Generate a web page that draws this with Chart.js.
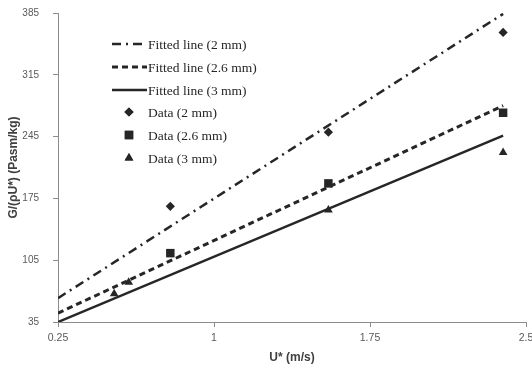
<!DOCTYPE html>
<html>
<head>
<meta charset="utf-8">
<script src="https://cdn.jsdelivr.net/npm/chart.js@4.4.1/dist/chart.umd.min.js"></script>
<style>
  html, body { margin: 0; padding: 0; background: #fff; }
  #wrap { width: 532px; height: 366px; position: relative; }
</style>
</head>
<body>
<div id="wrap"><canvas id="chart" width="532" height="366"></canvas></div>
<script>
// fitted lines (end points)
const fitX = [0.25, 2.39];
const fit2mm = [62, 384];
const fit26mm = [45, 280];
const fit3mm = [35, 246];

// measured data
const dataX2mm = [0.79, 1.55, 2.39];
const data2mm = [166, 250, 363];
const dataX26mm = [0.79, 1.55, 2.39];
const data26mm = [113, 192, 272];
const dataX3mm = [0.52, 0.59, 1.55, 2.39];
const data3mm = [67, 80, 162, 227];

const xTicks = [0.25, 1, 1.75, 2.5];
const yTicks = [35, 105, 175, 245, 315, 385];

const ink = '#262626';
const axisGrey = '#8c8c8c';

const pts = (xs, ys) => xs.map((x, i) => ({ x: x, y: ys[i] }));

// legend drawn inside the plot, top-left
const innerLegend = {
    id: 'innerLegend',
    afterDraw(chart) {
        const ctx = chart.ctx;
        const rows = [44, 67, 90, 112, 135, 158];
        ctx.save();
        ctx.font = '13.5px "Liberation Serif", "Times New Roman", serif';
        ctx.fillStyle = ink;
        ctx.textBaseline = 'middle';
        chart.data.datasets.forEach((ds, i) => {
            const y = rows[i];
            if (ds.showLine) {
                ctx.save();
                ctx.strokeStyle = ds.borderColor;
                ctx.lineWidth = ds.borderWidth;
                ctx.setLineDash(ds.borderDash || []);
                ctx.beginPath();
                ctx.moveTo(112, y);
                ctx.lineTo(147, y);
                ctx.stroke();
                ctx.restore();
            } else {
                Chart.helpers.drawPoint(ctx, {
                    pointStyle: ds.pointStyle,
                    radius: ds.pointRadius,
                    borderWidth: 0,
                    rotation: 0
                }, 129, y);
                ctx.fillStyle = ink;
                ctx.fill();
            }
            ctx.fillStyle = ink;
            ctx.fillText(ds.label, 148, y + 1);
        });
        ctx.restore();
    }
};

const lineSet = (label, ys, dash, width) => ({
    label: label,
    data: pts(fitX, ys),
    showLine: true,
    borderColor: ink,
    borderWidth: width,
    borderDash: dash,
    pointRadius: 0,
    fill: false
});

const markerSet = (label, xs, ys, style, r) => ({
    label: label,
    data: pts(xs, ys),
    showLine: false,
    pointStyle: style,
    pointRadius: r,
    pointBackgroundColor: ink,
    pointBorderColor: ink,
    pointBorderWidth: 0
});

new Chart(document.getElementById('chart'), {
    type: 'scatter',
    data: {
        datasets: [
            lineSet('Fitted line (2 mm)', fit2mm, [9, 5, 2, 5], 2.5),
            lineSet('Fitted line (2.6 mm)', fit26mm, [6, 4], 3),
            lineSet('Fitted line (3 mm)', fit3mm, [], 2.5),
            markerSet('Data (2 mm)', dataX2mm, data2mm, 'rectRot', 4.6),
            markerSet('Data (2.6 mm)', dataX26mm, data26mm, 'rect', 6),
            markerSet('Data (3 mm)', dataX3mm, data3mm, 'triangle', 5)
        ]
    },
    options: {
        responsive: false,
        animation: false,
        layout: { padding: { left: 0, top: 13, right: 5, bottom: 0 } },
        plugins: {
            legend: { display: false },
            tooltip: { enabled: false }
        },
        scales: {
            x: {
                type: 'linear',
                min: 0.25,
                max: 2.5,
                afterBuildTicks: (s) => { s.ticks = xTicks.map(v => ({ value: v })); },
                afterFit: (s) => { s.height = 44; s.paddingRight = 0; s.paddingLeft = 0; },
                grid: { drawOnChartArea: false, drawTicks: true, tickLength: 5, color: axisGrey },
                border: { color: axisGrey },
                ticks: {
                    color: '#595959',
                    padding: 5,
                    maxRotation: 0,
                    font: { family: '"Liberation Sans", Arial, sans-serif', size: 10.5 },
                    callback: (v) => String(v)
                },
                title: {
                    display: true,
                    text: 'U* (m/s)',
                    color: '#404040',
                    font: { family: '"Liberation Sans", Arial, sans-serif', size: 12, weight: 'bold' },
                    padding: { top: 0, bottom: 1.5 }
                }
            },
            y: {
                type: 'linear',
                min: 35,
                max: 385,
                afterBuildTicks: (s) => { s.ticks = yTicks.map(v => ({ value: v })); },
                afterFit: (s) => { s.width = 58; s.paddingTop = 0; s.paddingBottom = 0; },
                grid: { drawOnChartArea: false, drawTicks: true, tickLength: 5, color: axisGrey },
                border: { color: axisGrey },
                ticks: {
                    color: '#595959',
                    padding: 14,
                    font: { family: '"Liberation Sans", Arial, sans-serif', size: 10 }
                },
                title: {
                    display: true,
                    text: 'G/(ρU*) (Pasm/kg)',
                    color: '#404040',
                    font: { family: '"Liberation Sans", Arial, sans-serif', size: 12, weight: 'bold' },
                    padding: { top: 6, bottom: 0 }
                }
            }
        }
    },
    plugins: [innerLegend]
});
</script>
</body>
</html>
